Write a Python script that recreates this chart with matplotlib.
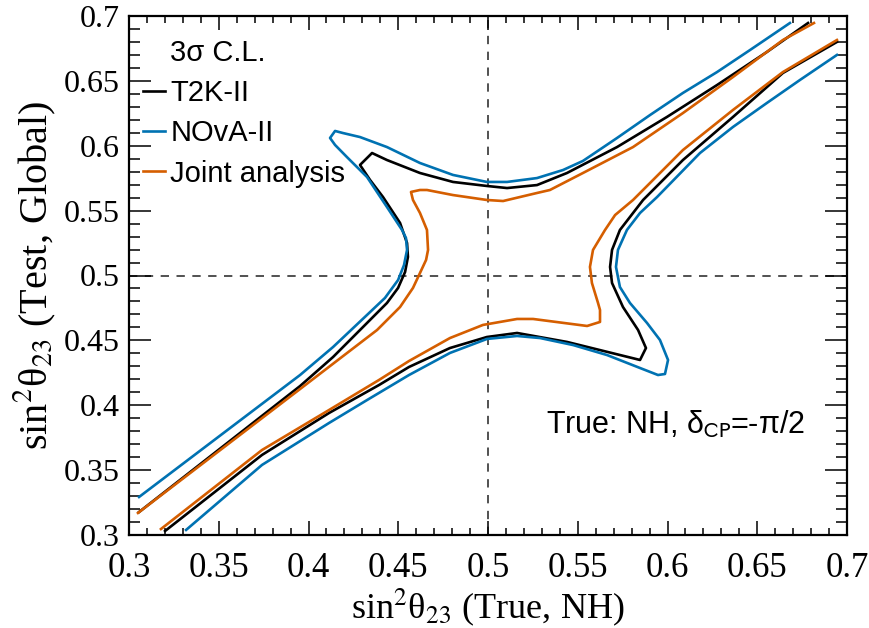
import matplotlib
matplotlib.use("Agg")
import matplotlib.pyplot as plt
from matplotlib.ticker import MultipleLocator, FixedLocator

# ---- data ----
t2k_upper_x = [0.3056, 0.3953, 0.4137, 0.4326, 0.4437, 0.4499, 0.4538, 0.4554, 0.4549, 0.451, 0.4415, 0.4343, 0.4287, 0.4354, 0.4437, 0.4621, 0.4805, 0.4994, 0.5106, 0.5273, 0.544, 0.5719, 0.5997, 0.6276, 0.6554, 0.6783]
t2k_upper_y = [0.3177, 0.4148, 0.4372, 0.4634, 0.4788, 0.4904, 0.5027, 0.5143, 0.525, 0.5405, 0.5605, 0.5736, 0.5852, 0.5944, 0.589, 0.579, 0.5721, 0.569, 0.5674, 0.5697, 0.579, 0.599, 0.6222, 0.6468, 0.6723, 0.6946]
t2k_lower_x = [0.3201, 0.3741, 0.4114, 0.4393, 0.456, 0.4788, 0.4994, 0.5162, 0.544, 0.5847, 0.588, 0.5836, 0.5752, 0.5691, 0.568, 0.5691, 0.5735, 0.5864, 0.6086, 0.6365, 0.6643, 0.6944]
t2k_lower_y = [0.3031, 0.3617, 0.394, 0.4156, 0.4295, 0.4441, 0.4526, 0.4557, 0.4488, 0.4349, 0.4441, 0.458, 0.4757, 0.4942, 0.5066, 0.5197, 0.5351, 0.5582, 0.589, 0.6222, 0.6561, 0.68]

nova_upper_x = [0.3056, 0.3953, 0.4137, 0.4326, 0.4426, 0.4499, 0.4532, 0.4549, 0.4543, 0.4521, 0.4437, 0.4326, 0.4214, 0.4148, 0.412, 0.4148, 0.4192, 0.4287, 0.4437, 0.4621, 0.4805, 0.4994, 0.5106, 0.5273, 0.5418, 0.5529, 0.5719, 0.5903, 0.6086, 0.6276, 0.646, 0.6682]
nova_upper_y = [0.3293, 0.4233, 0.4449, 0.4696, 0.4827, 0.4965, 0.508, 0.5197, 0.5289, 0.5351, 0.5528, 0.5759, 0.5913, 0.6006, 0.606, 0.6114, 0.6098, 0.6067, 0.599, 0.5867, 0.5775, 0.5721, 0.5721, 0.5751, 0.5813, 0.5883, 0.606, 0.6237, 0.6407, 0.6568, 0.6738, 0.6946]
nova_lower_x = [0.3318, 0.3741, 0.4114, 0.4326, 0.456, 0.4788, 0.4994, 0.5162, 0.529, 0.5474, 0.5663, 0.5847, 0.5947, 0.5986, 0.6003, 0.5958, 0.5886, 0.5791, 0.5735, 0.5713, 0.5724, 0.5774, 0.5847, 0.5942, 0.6181, 0.6365, 0.6554, 0.6738, 0.6944]
nova_lower_y = [0.3039, 0.354, 0.3863, 0.404, 0.4233, 0.4403, 0.4511, 0.4534, 0.4518, 0.4464, 0.4387, 0.4287, 0.4233, 0.4241, 0.4349, 0.4503, 0.4634, 0.4788, 0.4911, 0.5066, 0.5197, 0.5351, 0.5482, 0.5605, 0.5944, 0.6145, 0.633, 0.6507, 0.67]

joint_upper_x = [0.305, 0.3953, 0.4382, 0.451, 0.4582, 0.4621, 0.4655, 0.4666, 0.466, 0.4621, 0.4582, 0.4571, 0.4621, 0.466, 0.4805, 0.4994, 0.5084, 0.5273, 0.5345, 0.5529, 0.5808, 0.6086, 0.6365, 0.6643, 0.6816]
joint_upper_y = [0.317, 0.4125, 0.458, 0.4757, 0.4904, 0.5019, 0.512, 0.5197, 0.5351, 0.5482, 0.5582, 0.5644, 0.5659, 0.5659, 0.562, 0.5582, 0.5574, 0.5636, 0.5659, 0.579, 0.599, 0.6252, 0.653, 0.6815, 0.6946]
joint_lower_x = [0.3178, 0.3741, 0.4114, 0.4393, 0.456, 0.4788, 0.4972, 0.5162, 0.5251, 0.5552, 0.5624, 0.5624, 0.5613, 0.5579, 0.5568, 0.5585, 0.5652, 0.5708, 0.5808, 0.6086, 0.6365, 0.6643, 0.6944]
joint_lower_y = [0.3046, 0.3655, 0.3963, 0.4195, 0.4341, 0.4518, 0.4619, 0.4665, 0.4665, 0.4611, 0.4642, 0.4734, 0.4788, 0.4942, 0.5066, 0.5197, 0.5351, 0.5466, 0.5582, 0.5967, 0.6276, 0.6568, 0.6815]

series_names = ["T2K-II", "NOvA-II", "Joint analysis"]
series_colors = ["black", "#0072B2", "#D55E00"]
tick_values = [0.3, 0.35, 0.4, 0.45, 0.5, 0.55, 0.6, 0.65, 0.7]
tick_labels = ["0.3", "0.35", "0.4", "0.45", "0.5", "0.55", "0.6", "0.65", "0.7"]
annotation = "True: NH, δ$_{\\rm CP}$=-π/2"
annotation_xy = (0.6766, 0.3848)

SERIF = ["Liberation Serif", "DejaVu Serif"]
SANS = ["Liberation Sans", "DejaVu Sans"]

fig = plt.figure(figsize=(8.7, 6.28), dpi=100)
ax = fig.add_axes([129/870, 93/628, 718/870, 519/628])

ax.axvline(0.5, color="#333333", lw=1.2, dashes=[5, 4.5], zorder=1)
ax.axhline(0.5, color="#333333", lw=1.2, dashes=[5, 4.5], zorder=1)

curves = [
    (t2k_upper_x, t2k_upper_y, t2k_lower_x, t2k_lower_y),
    (nova_upper_x, nova_upper_y, nova_lower_x, nova_lower_y),
    (joint_upper_x, joint_upper_y, joint_lower_x, joint_lower_y),
]
handles = []
for (ux, uy, lx, ly), name, col in zip(curves, series_names, series_colors):
    h, = ax.plot(ux, uy, color=col, lw=1.9, label=name, zorder=3)
    ax.plot(lx, ly, color=col, lw=1.9, zorder=3)
    handles.append(h)

ax.set_xlim(0.3, 0.7)
ax.set_ylim(0.3, 0.7)
ax.xaxis.set_major_locator(FixedLocator(tick_values))
ax.yaxis.set_major_locator(FixedLocator(tick_values))
ax.set_xticklabels(tick_labels, fontfamily=SERIF, fontsize=25)
ax.set_yticklabels(tick_labels, fontfamily=SERIF, fontsize=23)
ax.xaxis.set_minor_locator(MultipleLocator(0.01))
ax.yaxis.set_minor_locator(MultipleLocator(0.01))
ax.tick_params(which="both", direction="in", top=True, right=True, width=1.1, color="black")
ax.tick_params(axis="x", which="major", length=10, pad=12)
ax.tick_params(axis="x", which="minor", length=5)
ax.tick_params(axis="y", which="major", length=16, pad=7)
ax.tick_params(axis="y", which="minor", length=8)
for s in ax.spines.values():
    s.set_linewidth(1.6)

ax.set_xlabel("sin$^{2}$θ$_{23}$ (True, NH)", fontfamily=SERIF, fontsize=26,
              math_fontfamily="stix", labelpad=1)
ax.set_ylabel("sin$^{2}$θ$_{23}$ (Test, Global)", fontfamily=SERIF, fontsize=29,
              math_fontfamily="stix", labelpad=4)

header, = ax.plot([], [], color="none", label="3σ C.L.")
leg = ax.legend(handles=[header] + handles, loc="upper left",
                bbox_to_anchor=(0.0195, 0.956), frameon=False,
                prop={"family": SANS, "size": 21}, handlelength=0.76,
                handletextpad=0.17, labelspacing=0.42, borderpad=0,
                borderaxespad=0)

ax.text(annotation_xy[0], annotation_xy[1], annotation, fontfamily=SANS, fontsize=22,
        math_fontfamily="stixsans", ha="right", va="center")

fig.savefig("out.png", dpi=100)
